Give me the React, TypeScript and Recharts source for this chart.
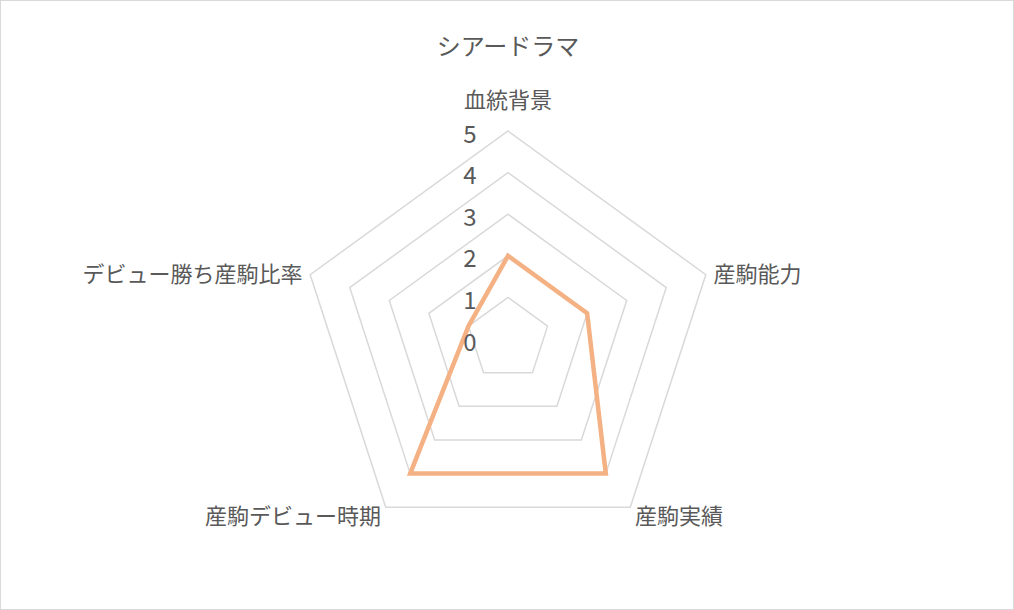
import React from 'react';
import { RadarChart, Radar, PolarGrid, PolarAngleAxis, PolarRadiusAxis } from 'recharts';

const categories = ['血統背景', '産駒能力', '産駒実績', '産駒デビュー時期', 'デビュー勝ち産駒比率'];
const scores = [2, 2, 4, 4, 1];
const radiusTicks = [0, 1, 2, 3, 4, 5];

const data = categories.map((name, i) => ({ name, value: scores[i] }));

const FONT = '"Noto Sans CJK JP", "Noto Sans", sans-serif';
const TEXT = '#595959';

const AngleTick = (props: any) => {
    const { x, y, payload, textAnchor } = props;
    const isTop = textAnchor === 'middle' && y < 339;
    return (
        <text
            x={x}
            y={y}
            dy={isTop ? -25 : 0}
            textAnchor={textAnchor}
            dominantBaseline="central"
            fill={TEXT}
            fontSize={22}
            fontFamily={FONT}
        >
            {payload.value}
        </text>
    );
};

const RadiusTick = (props: any) => {
    const { x, y, payload } = props;
    return (
        <text
            x={x - 38}
            y={y}
            dy={1}
            textAnchor="middle"
            dominantBaseline="central"
            fill={TEXT}
            fontSize={24}
            fontFamily={FONT}
        >
            {payload.value}
        </text>
    );
};

export default function App() {
    return (
        <div
            style={{
                position: 'absolute',
                left: 0,
                top: 0,
                width: 1014,
                height: 610,
                background: '#ffffff',
                border: '1px solid #d9d9d9',
                boxSizing: 'border-box',
                fontFamily: FONT,
            }}
        >
            <div
                style={{
                    position: 'absolute',
                    top: 26,
                    left: 0,
                    width: 1014,
                    textAlign: 'center',
                    fontSize: 24,
                    color: TEXT,
                    lineHeight: '36px',
                }}
            >
                シアードラマ
            </div>
            <RadarChart
                width={1012}
                height={608}
                data={data}
                cx={507}
                cy={338}
                outerRadius={208}
                margin={{ top: 0, right: 0, bottom: 0, left: 0 }}
            >
                <PolarGrid gridType="polygon" radialLines={false} stroke="#d9d9d9" strokeWidth={1.5} />
                <PolarAngleAxis dataKey="name" tick={<AngleTick />} tickLine={false} axisLine={false} />
                <PolarRadiusAxis
                    angle={90}
                    domain={[0, 5]}
                    ticks={radiusTicks as any}
                    tickCount={6}
                    tick={<RadiusTick />}
                    axisLine={false}
                    tickLine={false}
                />
                <Radar
                    dataKey="value"
                    stroke="#f4b183"
                    strokeWidth={4.5}
                    fill="none"
                    fillOpacity={0}
                    strokeLinejoin="miter"
                    isAnimationActive={false}
                />
            </RadarChart>
        </div>
    );
}
